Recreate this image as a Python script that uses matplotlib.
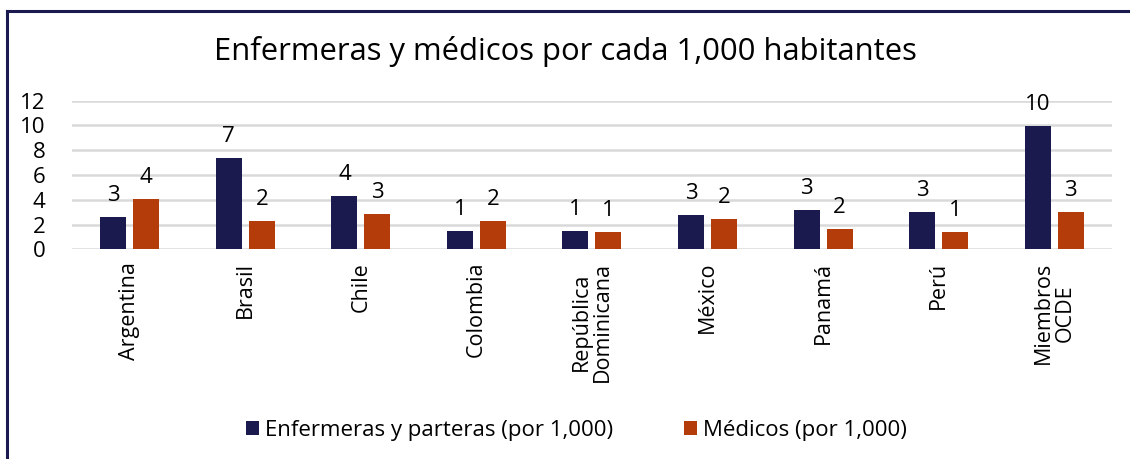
import matplotlib
matplotlib.use('Agg')
import matplotlib.pyplot as plt
import numpy as np
from matplotlib.lines import Line2D

plt.rcParams['font.family'] = ['Open Sans', 'DejaVu Sans']

# datos
paises = ['Argentina', 'Brasil', 'Chile', 'Colombia', 'República\nDominicana',
          'México', 'Panamá', 'Perú', 'Miembros\nOCDE']
enfermeras = [2.6, 7.36, 4.32, 1.48, 1.48, 2.79, 3.19, 2.98, 9.97]
medicos = [4.06, 2.28, 2.82, 2.31, 1.42, 2.42, 1.61, 1.37, 3.0]

color_enf = '#1B1A4E'
color_med = '#B33C0A'

fig = plt.figure(figsize=(11.3, 4.59), dpi=100)
ax = fig.add_axes([0.0637, 0.4569, 0.9203, 0.3237])

x = np.arange(len(paises))
ancho = 0.225
sep = 0.285

b1 = ax.bar(x - sep / 2, enfermeras, ancho, color=color_enf, label='Enfermeras y parteras (por 1,000)', zorder=3)
b2 = ax.bar(x + sep / 2, medicos, ancho, color=color_med, label='Médicos (por 1,000)', zorder=3)

for barras in (b1, b2):
    etiquetas = [f'{round(v):.0f}' for v in barras.datavalues]
    ax.bar_label(barras, labels=etiquetas, padding=8, fontsize=16)

ax.set_xlim(-0.5, len(paises) - 0.5)
ax.set_ylim(0, 12)
ax.set_yticks(range(0, 13, 2))
ax.tick_params(axis='y', labelsize=16, length=0, pad=19)
ax.tick_params(axis='x', labelsize=15.5, length=0, pad=9)
ax.set_xticks(x)
ax.set_xticklabels(paises, rotation=90, ha='center', va='top', multialignment='center',
                   linespacing=1.05)
ax.grid(axis='y', color='#D9D9D9', linewidth=1.8, zorder=0)
for s in ax.spines.values():
    s.set_visible(False)

fig.suptitle('Enfermeras y médicos por cada 1,000 habitantes', fontsize=22.3, y=0.922)

fig.legend(handles=[b1, b2], loc='center', bbox_to_anchor=(0.51, 0.063), ncol=2,
           frameon=False, fontsize=16, handlelength=0.6, handleheight=0.6,
           handletextpad=0.25, columnspacing=3.2)

# marco del gráfico
fig.add_artist(Line2D([0.0062, 1], [0.976, 0.976], color='#1B1A4E', linewidth=2.2, transform=fig.transFigure))
fig.add_artist(Line2D([0.0062, 0.0062], [0, 0.976], color='#1B1A4E', linewidth=2.2, transform=fig.transFigure))

plt.savefig('out.png', dpi=100)
